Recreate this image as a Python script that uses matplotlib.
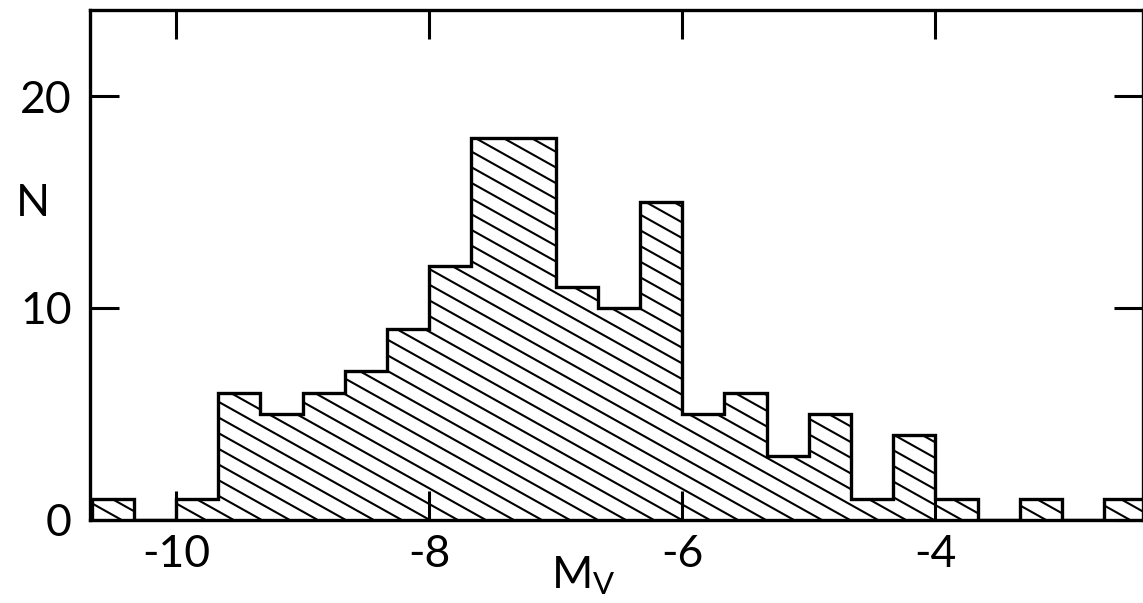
import numpy as np
import matplotlib
matplotlib.use("Agg")
import matplotlib.pyplot as plt
from matplotlib.collections import LineCollection

plt.rcParams['font.family'] = ['Lato', 'DejaVu Sans']

# histogram of absolute magnitudes, bins of 1/3 mag starting at -10 2/3
bin_edges = -32 / 3 + np.arange(26) / 3.0
counts = [1, 0, 1, 6, 5, 6, 7, 9, 12, 18, 18, 11, 10, 15,
          5, 6, 3, 5, 1, 4, 1, 0, 1, 0, 1]
x_ticks = [-10, -8, -6, -4]
x_ticklabels = ['-10', '-8', '-6', '-4']
y_ticks = [0, 10, 20]
y_ticklabels = ['0', '10', '20']

fig = plt.figure(figsize=(11.43, 6.03), dpi=100)
ax = fig.add_axes([0.0787, 0.138, 0.9213, 0.845])

# filled step shape, used as clip for the hatching
shape = ax.stairs(counts, bin_edges, fill=True, facecolor='white',
                  edgecolor='none', zorder=1)

# hatch lines running down to the right, continuous across all bins
step = 0.0266
slope = 0.865
segs = [[(c, 0.0), (c - slope, 1.0)] for c in np.arange(-0.05, 2.0, step)]
lc = LineCollection(segs, colors='black', linewidths=1.5,
                    transform=ax.transAxes, zorder=2)
lc.set_clip_path(shape)
ax.add_collection(lc)

ax.stairs(counts, bin_edges, fill=False, edgecolor='black',
          linewidth=2.4, zorder=3)

ax.set_xlim(-10.68, -2.36)
ax.set_ylim(0, 24.05)

ax.set_xticks(x_ticks)
ax.set_xticklabels(x_ticklabels)
ax.set_yticks(y_ticks)
ax.set_yticklabels(y_ticklabels)
ax.tick_params(direction='in', length=21, width=2.2, labelsize=32,
               top=True, right=True, pad=10)
ax.tick_params(axis='y', pad=13)

for sp in ax.spines.values():
    sp.set_linewidth(2.4)

fig.text(0.014, 0.663, 'N', fontsize=32, ha='left', va='center')
fig.text(0.51, 0.045, r'$\mathregular{M_V}$', fontsize=32,
         ha='center', va='center')

fig.savefig('out.png', dpi=100)
